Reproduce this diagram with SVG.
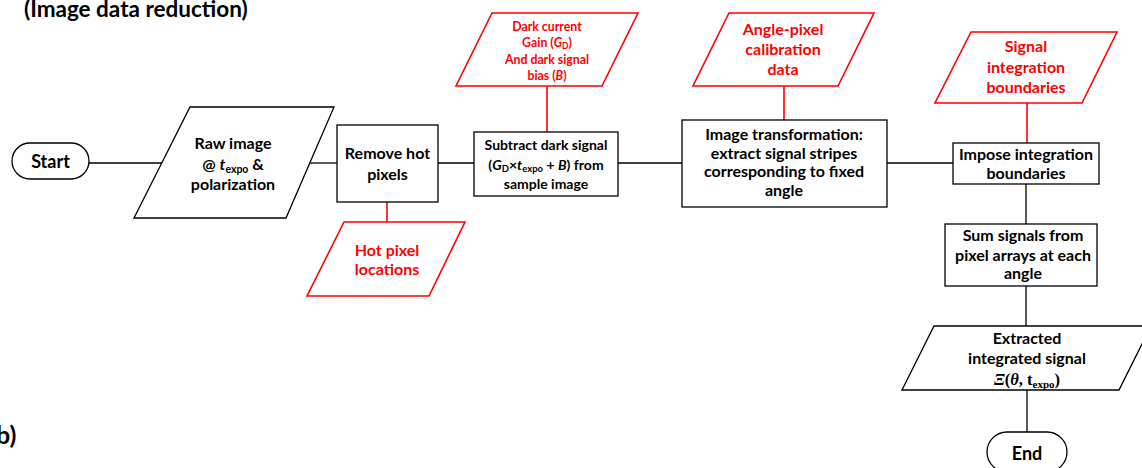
<svg xmlns="http://www.w3.org/2000/svg" width="1142" height="468" viewBox="0 0 1142 468">
<style>
.shape{fill:#fff;stroke:#000;stroke-width:1.3}
.rshape{fill:#fff;stroke:#f00;stroke-width:1.6}
.conn{stroke:#000;stroke-width:1.3;fill:none}
.rconn{stroke:#f00;stroke-width:1.6;fill:none}
text{font-family:Lato,"Liberation Sans",sans-serif;font-weight:bold;text-anchor:middle;fill:#000}
.red{fill:#f00}
.f15{font-size:16px}
.f13{font-size:14px}
.f11{font-size:12.3px}
.i{font-style:italic}
</style>
<rect width="1142" height="468" fill="#fff"/>
<text x="24" y="17" style="font-size:22.5px;text-anchor:start">(Image data reduction)</text>
<text x="-4" y="444" style="font-size:25px;text-anchor:start">b)</text>
<g id="connectors">
<line class="conn" x1="89" y1="163" x2="162" y2="163"/>
<line class="conn" x1="309" y1="163" x2="337" y2="163"/>
<line class="conn" x1="438" y1="163" x2="474" y2="163"/>
<line class="conn" x1="618" y1="163" x2="682" y2="163"/>
<line class="conn" x1="887" y1="163" x2="953" y2="163"/>
<line class="conn" x1="1026" y1="184" x2="1026" y2="224"/>
<line class="conn" x1="1026" y1="286" x2="1026" y2="326"/>
<line class="conn" x1="1027" y1="390" x2="1027" y2="432"/>
<line class="rconn" x1="547" y1="86" x2="547" y2="132"/>
<line class="rconn" x1="387" y1="202" x2="387" y2="222"/>
<line class="rconn" x1="784" y1="86" x2="784" y2="120"/>
<line class="rconn" x1="1027" y1="103" x2="1027" y2="143"/>
</g>
<g id="start">
<rect class="shape" x="12" y="143" width="77" height="36" rx="18"/>
<text x="50.5" y="168" style="font-size:18px">Start</text>
</g>
<g id="raw-image">
<polygon class="shape" points="190,107 334,107 286,218 134,218"/>
<text class="f15" x="233" y="149">Raw image</text>
<text class="f15" x="233" y="170">@ <tspan class="i">t</tspan><tspan style="font-size:10.5px" dy="3">expo</tspan><tspan dy="-3"> &amp;</tspan></text>
<text class="f15" x="233" y="190">polarization</text>
</g>
<g id="remove-hot">
<rect class="shape" x="337" y="125" width="101" height="77"/>
<text class="f15" x="387.5" y="159">Remove hot</text>
<text class="f15" x="387.5" y="180">pixels</text>
</g>
<g id="hot-pixel">
<polygon class="rshape" points="344,222 465,222 429,296 307,296"/>
<text class="f15 red" x="387" y="256">Hot pixel</text>
<text class="f15 red" x="387" y="275">locations</text>
</g>
<g id="subtract">
<rect class="shape" x="474" y="132" width="144" height="64"/>
<text class="f13" x="546" y="150">Subtract dark signal</text>
<text class="f13" x="546" y="170">(<tspan class="i">G</tspan><tspan style="font-size:9.5px" dy="2">D</tspan><tspan dy="-2">×</tspan><tspan class="i">t</tspan><tspan style="font-size:9.5px" dy="2">expo</tspan><tspan dy="-2"> + </tspan><tspan class="i">B</tspan>) from</text>
<text class="f13" x="546" y="189">sample image</text>
</g>
<g id="dark-current">
<polygon class="rshape" points="492,13 638,13 602,86 456,86"/>
<text class="f11 red" x="547" y="31">Dark current</text>
<text class="f11 red" x="547" y="47">Gain (<tspan class="i">G</tspan><tspan style="font-size:8.5px" dy="2">D</tspan><tspan dy="-2">)</tspan></text>
<text class="f11 red" x="547" y="64">And dark signal</text>
<text class="f11 red" x="547" y="80">bias (<tspan class="i">B</tspan>)</text>
</g>
<g id="transform">
<rect class="shape" x="682" y="120" width="205" height="87"/>
<text class="f15" x="784" y="140">Image transformation:</text>
<text class="f15" x="784" y="159">extract signal stripes</text>
<text class="f15" x="784" y="177">corresponding to fixed</text>
<text class="f15" x="784" y="196">angle</text>
</g>
<g id="angle-pixel">
<polygon class="rshape" points="729,13 874,13 838,86 693,86"/>
<text class="f15 red" x="783" y="35">Angle-pixel</text>
<text class="f15 red" x="783" y="55">calibration</text>
<text class="f15 red" x="783" y="75">data</text>
</g>
<g id="impose">
<rect class="shape" x="953" y="143" width="146" height="41"/>
<text class="f15" x="1026" y="160">Impose integration</text>
<text class="f15" x="1026" y="179">boundaries</text>
</g>
<g id="signal-boundaries">
<polygon class="rshape" points="971,32 1117,32 1082,103 935,103"/>
<text class="f15 red" x="1026" y="52">Signal</text>
<text class="f15 red" x="1026" y="73">integration</text>
<text class="f15 red" x="1026" y="93">boundaries</text>
</g>
<g id="sum">
<rect class="shape" x="945" y="224" width="152" height="62"/>
<text class="f15" x="1023" y="241">Sum signals from</text>
<text class="f15" x="1023" y="261">pixel arrays at each</text>
<text class="f15" x="1023" y="279">angle</text>
</g>
<g id="extracted">
<polygon class="shape" points="934,326 1151,326 1119,390 902,390"/>
<text class="f15" x="1027" y="344">Extracted</text>
<text class="f15" x="1027" y="364">integrated signal</text>
<text x="1027" y="385" style="font-family:'Liberation Serif',serif;font-size:16.5px"><tspan class="i">Ξ</tspan>(<tspan class="i">θ</tspan>, t<tspan style="font-size:11px" dy="3">expo</tspan><tspan dy="-3">)</tspan></text>
</g>
<g id="end">
<rect class="shape" x="987" y="432" width="80" height="40" rx="20"/>
<text x="1027" y="460" style="font-size:18px">End</text>
</g>
</svg>
